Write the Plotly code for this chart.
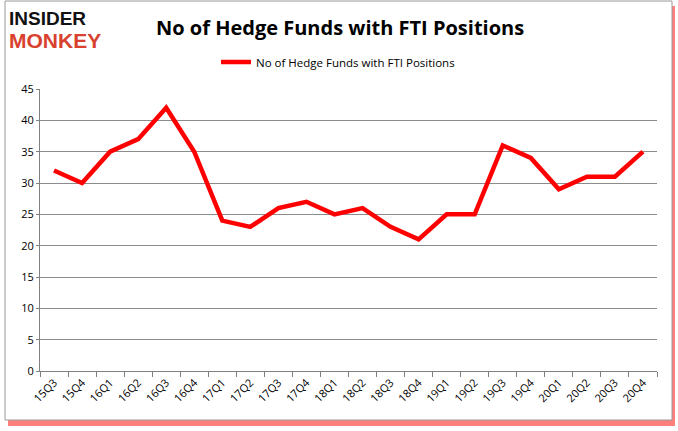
import plotly.graph_objects as go

quarters = ["15Q3", "15Q4", "16Q1", "16Q2", "16Q3", "16Q4", "17Q1", "17Q2", "17Q3", "17Q4",
            "18Q1", "18Q2", "18Q3", "18Q4", "19Q1", "19Q2", "19Q3", "19Q4", "20Q1", "20Q2",
            "20Q3", "20Q4"]
funds = [32, 30, 35, 37, 42, 35, 24, 23, 26, 27, 25, 26, 23, 21, 25, 25, 36, 34, 29, 31, 31, 35]
series_name = "No of Hedge Funds with FTI Positions"
title_text = "No of Hedge Funds with FTI Positions"
y_ticks = [0, 5, 10, 15, 20, 25, 30, 35, 40, 45]

W, H = 678, 431
L, R, T, B = 40, 21, 89, 60
pw, ph = W - L - R, H - T - B

def fx(px):
    return (px - L) / pw

def fy(py):
    return (H - B - py) / ph

fig = go.Figure()
fig.add_trace(go.Scatter(
    x=quarters, y=funds, mode="lines", name=series_name,
    line=dict(color="#ff0000", width=4.5),
))

shapes = [
    # red shadow
    dict(type="rect", xref="paper", yref="paper", x0=fx(8), x1=fx(675), y0=fy(426), y1=fy(6),
         line=dict(width=0), fillcolor="rgba(255,40,40,0.6)", layer="below"),
    # frame
    dict(type="rect", xref="paper", yref="paper", x0=fx(5), x1=fx(672), y0=fy(420), y1=fy(1),
         line=dict(color="#9a9a9a", width=1), fillcolor="white", layer="below"),
]

annotations = [
    dict(text="<b>INSIDER</b>", xref="paper", yref="paper", x=fx(7), y=fy(18), xanchor="left",
         yanchor="middle", showarrow=False,
         font=dict(family="Liberation Sans Narrow, Liberation Sans", size=19, color="#111111")),
    dict(text="<b>MONKEY</b>", xref="paper", yref="paper", x=fx(7), y=fy(41), xanchor="left",
         yanchor="middle", showarrow=False,
         font=dict(family="Liberation Sans Narrow, Liberation Sans", size=21, color="#d8412e")),
    dict(text="<b>" + title_text + "</b>", xref="paper", yref="paper", x=fx(340), y=fy(27),
         xanchor="center", yanchor="middle", showarrow=False,
         font=dict(family="Open Sans", size=20, color="#000000")),
]

fig.update_layout(
    width=W, height=H,
    margin=dict(l=L, r=R, t=T, b=B),
    paper_bgcolor="white", plot_bgcolor="white",
    shapes=shapes, annotations=annotations,
    showlegend=True,
    legend=dict(orientation="h", x=fx(216), y=fy(62), xanchor="left", yanchor="middle",
                font=dict(family="Open Sans", size=11.5, color="#000000"),
                bgcolor="rgba(0,0,0,0)", itemwidth=30),
    xaxis=dict(
        type="category", tickangle=-45, ticks="outside", tickson="boundaries", ticklen=5,
        tickcolor="#808080", showline=True, linecolor="#808080", linewidth=1,
        showgrid=False, tickfont=dict(family="Open Sans", size=11, color="#000000"),
        range=[-0.5, len(quarters) - 0.5],
    ),
    yaxis=dict(
        range=[0, 45], tickvals=y_ticks, showgrid=True, gridcolor="#8c8c8c", gridwidth=1,
        showline=True, linecolor="#808080", linewidth=1, ticks="outside", ticklen=3,
        tickcolor="#808080", zeroline=False,
        tickfont=dict(family="Open Sans", size=11, color="#000000"),
    ),
)

fig.write_html("out.html", config={"displayModeBar": False},
               post_script="document.body.style.margin='0';document.body.style.overflow='hidden';")
